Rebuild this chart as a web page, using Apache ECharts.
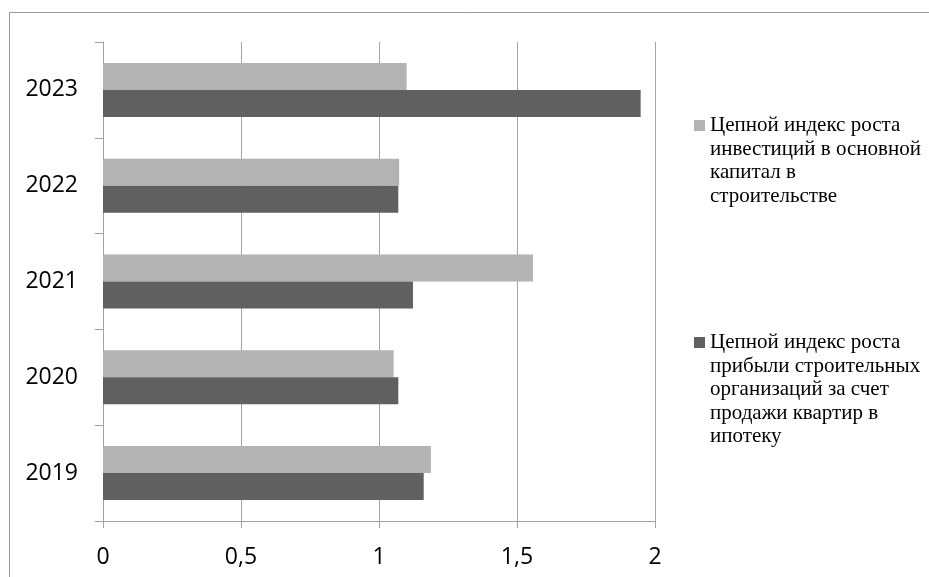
<!DOCTYPE html>
<html>
<head>
<meta charset="utf-8">
<script src="https://cdn.jsdelivr.net/npm/echarts@6/dist/echarts.min.js"></script>
<style>
  html, body { margin: 0; padding: 0; background: #ffffff; }
  #chart { width: 929px; height: 577px; }
</style>
</head>
<body>
<div id="chart"></div>
<script>
// ---- data ----
const years = ['2019', '2020', '2021', '2022', '2023'];
const investIndex = [1.188, 1.053, 1.558, 1.073, 1.100];
const profitIndex = [1.162, 1.070, 1.123, 1.070, 1.948];
const xTickValues = [0, 0.5, 1, 1.5, 2];
const xTickLabels = ['0', '0,5', '1', '1,5', '2'];
const investName = 'Цепной индекс роста\nинвестиций в основной\nкапитал в\nстроительстве';
const profitName = 'Цепной индекс роста\nприбыли строительных\nорганизаций за счет\nпродажи квартир в\nипотеку';

// ---- styles ----
const lightColor = '#b3b3b3';
const darkColor = '#606060';
const axisColor = '#a0a0a0';
const gridColor = '#a6a6a6';
const serifFont = 'Liberation Serif';
const LH = 23.5;
const SQ = 11;

// Legend icon: a square level with the first text line; the icon box spans the whole text block
function legendIconSpec(name) {
  const n = name.split('\n').length;
  const h = n * LH;
  const y0 = (LH - SQ) / 2;
  return {
    icon: 'path://M0,0L0.01,0M0,' + y0 + 'h' + SQ + 'v' + SQ + 'h-' + SQ + 'zM0,' + h + 'L0.01,' + h,
    itemWidth: SQ,
    itemHeight: h
  };
}

const chart = echarts.init(document.getElementById('chart'), null, { renderer: 'canvas' });
const ic1 = legendIconSpec(investName);
const ic2 = legendIconSpec(profitName);
const legendTextStyle = { fontFamily: serifFont, fontSize: 21, color: '#000', lineHeight: LH };

const option = {
  animation: false,
  backgroundColor: '#ffffff',
  graphic: [{
    type: 'rect',
    shape: { x: 9.5, y: 12.5, width: 1000, height: 1000 },
    style: { fill: 'none', stroke: '#9a9a9a', lineWidth: 1 },
    silent: true
  }],
  grid: { left: 103, right: 274, top: 42, bottom: 56, containLabel: false },
  legend: [{
    data: [investName],
    left: 694, top: 125.5 - LH / 2, padding: 0,
    icon: ic1.icon, itemWidth: ic1.itemWidth, itemHeight: ic1.itemHeight,
    selectedMode: false,
    textStyle: legendTextStyle
  }, {
    data: [profitName],
    left: 694, top: 342.5 - LH / 2, padding: 0,
    icon: ic2.icon, itemWidth: ic2.itemWidth, itemHeight: ic2.itemHeight,
    selectedMode: false,
    textStyle: legendTextStyle
  }],
  xAxis: {
    type: 'value',
    min: 0, max: 2, interval: 0.5,
    axisLine: { show: true, lineStyle: { color: axisColor, width: 1 } },
    axisTick: { show: true, length: 7, lineStyle: { color: axisColor } },
    splitLine: { show: true, lineStyle: { color: gridColor, width: 1 } },
    axisLabel: {
      margin: 25,
      fontFamily: 'Open Sans', fontSize: 23, color: '#000',
      formatter: function (v) {
        const i = xTickValues.indexOf(v);
        return i >= 0 ? xTickLabels[i] : String(v);
      }
    }
  },
  yAxis: {
    type: 'category',
    data: years,
    axisLine: { show: true, lineStyle: { color: axisColor, width: 1 } },
    axisTick: { show: true, length: 8, lineStyle: { color: axisColor } },
    axisLabel: { margin: 25, fontFamily: 'Open Sans', fontSize: 23, color: '#000' },
    splitLine: { show: false }
  },
  series: [{
    name: investName,
    type: 'bar',
    data: investIndex,
    barWidth: 27,
    barGap: '0%',
    itemStyle: { color: lightColor }
  }, {
    name: profitName,
    type: 'bar',
    data: profitIndex,
    barWidth: 27,
    barGap: '0%',
    itemStyle: { color: darkColor }
  }]
};
chart.setOption(option);
</script>
</body>
</html>
